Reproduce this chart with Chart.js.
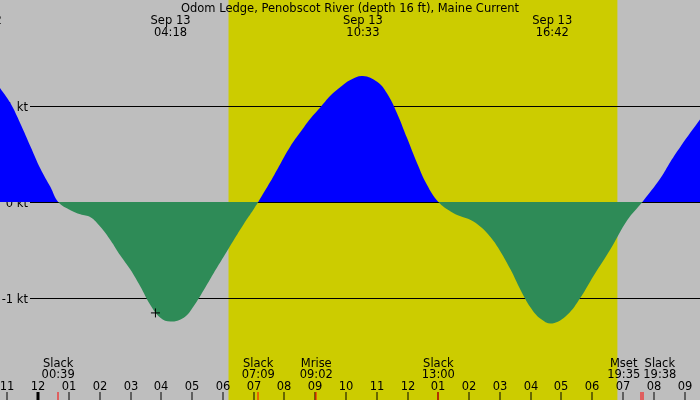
<!DOCTYPE html>
<html>
<head>
<meta charset="utf-8">
<style>
  html, body { margin: 0; padding: 0; background: #bebebe; }
  #wrap { width: 700px; height: 400px; }
</style>
<script src="https://cdn.jsdelivr.net/npm/chart.js@4.4.1/dist/chart.umd.min.js"></script>
</head>
<body>
<div id="wrap"><canvas id="currentChart" width="700" height="400"></canvas></div>
<script>
// Current speed (kt), hours from midnight Sep 13
const hours = [-1.24, -0.90, -0.58, -0.25, 0.07, 0.40, 0.65, 1.05, 1.37, 1.70, 2.02, 2.35, 2.67, 3.00, 3.32, 3.64, 3.97, 4.30,
  4.73, 5.05, 5.38, 5.70, 6.03, 6.35, 6.67, 7.00, 7.15, 7.54, 7.87, 8.19, 8.52, 8.84, 9.17, 9.49, 9.82, 10.14, 10.55,
  11.01, 11.33, 11.66, 11.98, 12.31, 12.63, 13.00, 13.40, 13.72, 14.05, 14.37, 14.70, 15.02, 15.35, 15.67, 15.99, 16.32,
  16.70, 17.19, 17.62, 18.05, 18.60, 19.14, 19.63, 20.22, 20.54, 20.87, 21.50];
const knots = [1.19, 1.03, 0.82, 0.58, 0.35, 0.155, 0.00, -0.087, -0.13, -0.16, -0.26, -0.40, -0.56, -0.71, -0.885, -1.075, -1.21, -1.25,
  -1.21, -1.09, -0.92, -0.745, -0.57, -0.40, -0.235, -0.076, 0.00, 0.21, 0.40, 0.58, 0.73, 0.87, 0.99, 1.11, 1.20, 1.275, 1.315,
  1.255, 1.135, 0.925, 0.67, 0.405, 0.18, 0.00, -0.10, -0.15, -0.19, -0.26, -0.37, -0.52, -0.71, -0.92, -1.10, -1.22,
  -1.27, -1.18, -1.00, -0.77, -0.49, -0.19, 0.00, 0.25, 0.42, 0.58, 0.86];

// max flood / max ebb labels along the top
const peakDates = ['Sep 12', 'Sep 13', 'Sep 13', 'Sep 13'];
const peakTimes = ['22:10', '04:18', '10:33', '16:42'];

// events along the bottom
const eventNames = ['Slack', 'Slack', 'Mrise', 'Slack', 'Mset', 'Slack'];
const eventTimes = ['00:39', '07:09', '09:02', '13:00', '19:35', '19:38'];

// hour ticks
const tickHours = [-1, 0, 1, 2, 3, 4, 5, 6, 7, 8, 9, 10, 11, 12, 13, 14, 15, 16, 17, 18, 19, 20, 21];
const tickLabels = ['11', '12', '01', '02', '03', '04', '05', '06', '07', '08', '09', '10',
  '11', '12', '01', '02', '03', '04', '05', '06', '07', '08', '09'];

const levelValues = [1, 0, -1];
const levelLabels = ['1 kt', '0 kt', '-1 kt'];

const sunrise = '06:11';
const sunset = '18:49';
const markerHour = 3.81;
const markerKnots = -1.16;

const title = 'Odom Ledge, Penobscot River (depth 16 ft), Maine Current';
const FONT = '11.5px "DejaVu Sans"';

function toHour(t, date) {
    const [h, m] = t.split(':').map(Number);
    return h + m / 60 - (date === 'Sep 12' ? 24 : 0);
}

// Background, daylight band and kt lines
const backdrop = {
    id: 'backdrop',
    beforeDatasetsDraw(chart) {
        const { ctx, chartArea, scales } = chart;
        const x = scales.x, y = scales.y;
        ctx.save();
        ctx.fillStyle = '#bebebe';
        ctx.fillRect(0, 0, chart.width, chart.height);
        const x1 = x.getPixelForValue(toHour(sunrise));
        const x2 = x.getPixelForValue(toHour(sunset));
        ctx.fillStyle = '#cccc00';
        ctx.fillRect(x1, chartArea.top, x2 - x1, chartArea.bottom - chartArea.top);

        ctx.strokeStyle = '#000';
        ctx.lineWidth = 1;
        ctx.font = FONT;
        ctx.fillStyle = '#000';
        ctx.textAlign = 'right';
        levelValues.forEach((v, i) => {
            const py = Math.round(y.getPixelForValue(v)) + 0.5;
            ctx.beginPath();
            ctx.moveTo(30, py);
            ctx.lineTo(chartArea.right, py);
            ctx.stroke();
            ctx.fillText(levelLabels[i], 28, py + 4);
        });
        ctx.restore();
    }
};

// Text and ticks on top of everything
const annotations = {
    id: 'annotations',
    afterDraw(chart) {
        const { ctx, scales } = chart;
        const x = scales.x;
        ctx.save();
        ctx.font = FONT;
        ctx.fillStyle = '#000';
        ctx.textAlign = 'center';
        ctx.fillText(title, 350, 12);

        peakTimes.forEach((t, i) => {
            const px = x.getPixelForValue(toHour(t, peakDates[i]));
            ctx.fillText(peakDates[i], px, 24);
            ctx.fillText(t, px, 36);
        });

        // bottom events, pushed apart where they collide
        const boxes = eventTimes.map((t, i) => {
            const w = Math.max(ctx.measureText(eventNames[i]).width, ctx.measureText(t).width);
            return { px: x.getPixelForValue(toHour(t)), cx: x.getPixelForValue(toHour(t)), w };
        });
        for (let i = 1; i < boxes.length; i++) {
            const a = boxes[i - 1], b = boxes[i];
            const need = (a.w + b.w) / 2 + 3;
            const gap = b.cx - a.cx;
            if (gap < need) {
                a.cx -= (need - gap) / 2;
                b.cx += (need - gap) / 2;
            }
        }
        boxes.forEach((b, i) => {
            ctx.fillText(eventNames[i], b.cx, 367);
            ctx.fillText(eventTimes[i], b.cx, 378);
        });

        // hour ticks
        tickHours.forEach((h, i) => {
            const px = Math.round(x.getPixelForValue(h));
            ctx.fillText(tickLabels[i], px, 390);
            if (h === 0) ctx.fillRect(px - 1.5, 392, 3, 8);
            else ctx.fillRect(px - 0.5, 392, 1, 8);
        });
        ctx.fillStyle = '#ff0000';
        boxes.forEach(b => ctx.fillRect(Math.round(b.px) - 0.5, 392, 1, 8));
        ctx.restore();
    }
};

const ctx = document.getElementById('currentChart').getContext('2d');
const currentChart = new Chart(ctx, {
    type: 'line',
    data: {
        datasets: [{
            label: 'Current',
            data: hours.map((h, i) => ({ x: h, y: knots[i] })),
            order: 1,
            borderWidth: 0,
            borderColor: 'rgba(0,0,0,0)',
            pointRadius: 0,
            tension: 0.4,
            fill: { target: { value: 0 }, above: '#0000ff', below: '#2e8b57' }
        }, {
            label: 'Marker',
            data: [{ x: markerHour, y: markerKnots }],
            order: 0,
            showLine: false,
            pointStyle: 'cross',
            pointRadius: 4.5,
            borderColor: '#000',
            borderWidth: 1
        }]
    },
    options: {
        responsive: false,
        animation: false,
        events: [],
        layout: { padding: 0, autoPadding: false },
        plugins: { legend: { display: false }, tooltip: { enabled: false } },
        scales: {
            x: { type: 'linear', min: -1.24, max: 21.5, display: false },
            y: { min: -2.07, max: 2.11, display: false }
        }
    },
    plugins: [backdrop, annotations]
});
</script>
</body>
</html>
